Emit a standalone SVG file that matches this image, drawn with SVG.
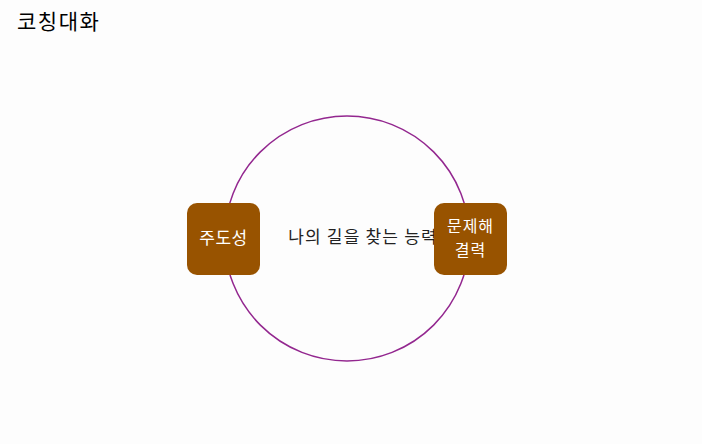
<svg xmlns="http://www.w3.org/2000/svg" width="702" height="444" viewBox="0 0 702 444">
<style>
.t{font-family:"Noto Sans CJK KR","Noto Sans",sans-serif}
.box{fill:#985300}
.bl{fill:#ffffff;font-size:17px;text-anchor:middle;letter-spacing:0.5px}
.bl2{fill:#ffffff;font-size:16px;text-anchor:middle;letter-spacing:1px}
</style>
<rect width="702" height="444" fill="#fdfdfd"/>
<text class="t" x="17" y="29" font-size="21" letter-spacing="1.5" fill="#000">코칭대화</text>
<g id="connectors">
<circle cx="347" cy="238.5" r="122.5" fill="none" stroke="#93278f" stroke-width="1.5"/>
</g>
<g id="center">
<text class="t" x="363" y="243" font-size="17" letter-spacing="1.2" text-anchor="middle" fill="#222">나의 길을 찾는 능력</text>
</g>
<g id="n1">
<rect class="box" x="187" y="203" width="73" height="72" rx="10"/>
<text class="t bl" x="223.5" y="244">주도성</text>
</g>
<g id="n2">
<rect class="box" x="434" y="203" width="73" height="72" rx="10"/>
<text class="t bl2" x="470.5" y="232">문제해</text>
<text class="t bl2" x="470.5" y="256">결력</text>
</g>
</svg>
